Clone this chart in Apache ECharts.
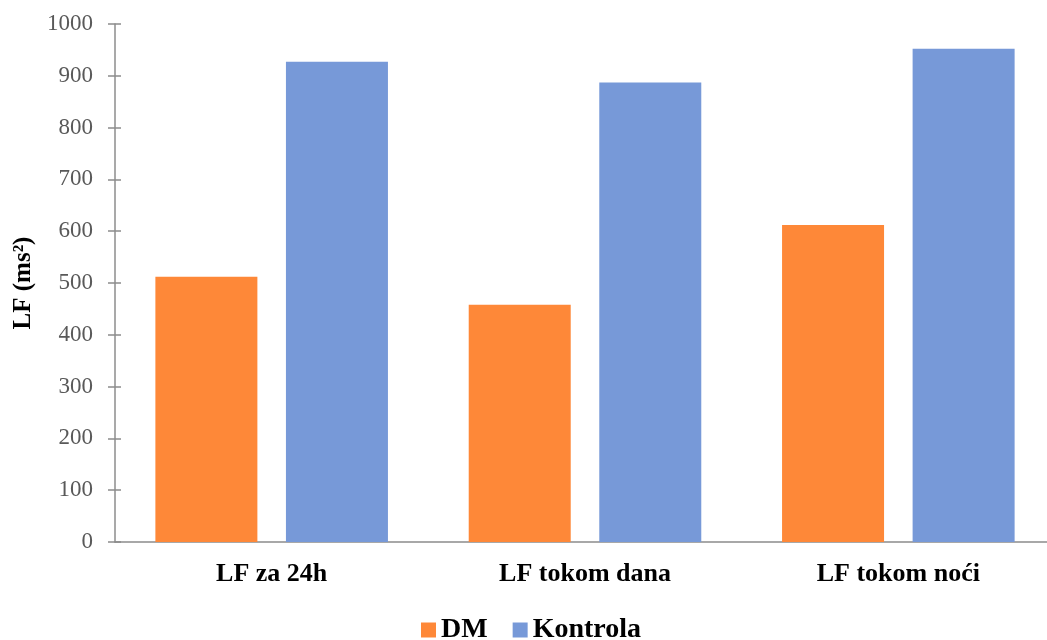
<!DOCTYPE html>
<html>
<head>
<meta charset="utf-8">
<script src="https://cdn.jsdelivr.net/npm/echarts@6/dist/echarts.min.js"></script>
<style>html,body{margin:0;padding:0;background:#fff}#c{width:1047px;height:640px}</style>
</head>
<body>
<div id="c"></div>
<script>
const categories = ['LF za 24h', 'LF tokom dana', 'LF tokom noći'];
const dmValues = [512, 458, 612];
const kontrolaValues = [927, 887, 952];
const yTicks = [0, 100, 200, 300, 400, 500, 600, 700, 800, 900, 1000];

const serif = '"Liberation Serif", "Times New Roman", serif';
const chart = echarts.init(document.getElementById('c'));
chart.setOption({
  animation: false,
  grid: { left: 115, top: 24, width: 940, height: 518, containLabel: false, outerBoundsMode: 'none' },
  legend: {
    left: 416, top: 611,
    icon: 'rect', itemWidth: 15, itemHeight: 15, itemGap: 25,
    textStyle: { fontFamily: serif, fontWeight: 'bold', fontSize: 28, color: '#000' },
    data: ['DM', 'Kontrola']
  },
  xAxis: {
    type: 'category', data: categories,
    axisLine: { lineStyle: { color: '#8c8c8c', width: 1.5 } },
    axisTick: { show: false },
    axisLabel: { margin: 19, fontFamily: serif, fontWeight: 'bold', fontSize: 26, color: '#000' }
  },
  yAxis: [{
    type: 'value', min: yTicks[0], max: yTicks[yTicks.length - 1], interval: 100,
    name: 'LF (ms²)', nameLocation: 'middle', nameGap: 71, nameRotate: 90,
    nameTextStyle: { fontFamily: serif, fontWeight: 'bold', fontSize: 25, color: '#000' },
    axisLine: { show: true, lineStyle: { color: '#8c8c8c', width: 1.5 } },
    axisTick: { show: true, length: 7, lineStyle: { color: '#8c8c8c', width: 1.5 } },
    axisLabel: { margin: 22, fontFamily: serif, fontSize: 23, color: '#595959', formatter: v => String(v) },
    splitLine: { show: false }
  }, {
    type: 'value', position: 'left', min: yTicks[0], max: yTicks[yTicks.length - 1], interval: 100,
    axisLine: { show: false },
    axisTick: { show: true, inside: true, length: 6, lineStyle: { color: '#8c8c8c', width: 1.5 } },
    axisLabel: { show: false },
    splitLine: { show: false }
  }],
  series: [{
    name: 'DM', type: 'bar', data: dmValues, barWidth: 102, barGap: '28%',
    itemStyle: { color: '#FE8838' }
  }, {
    name: 'Kontrola', type: 'bar', data: kontrolaValues, barWidth: 102,
    itemStyle: { color: '#7799D8' }
  }]
});
</script>
</body>
</html>
